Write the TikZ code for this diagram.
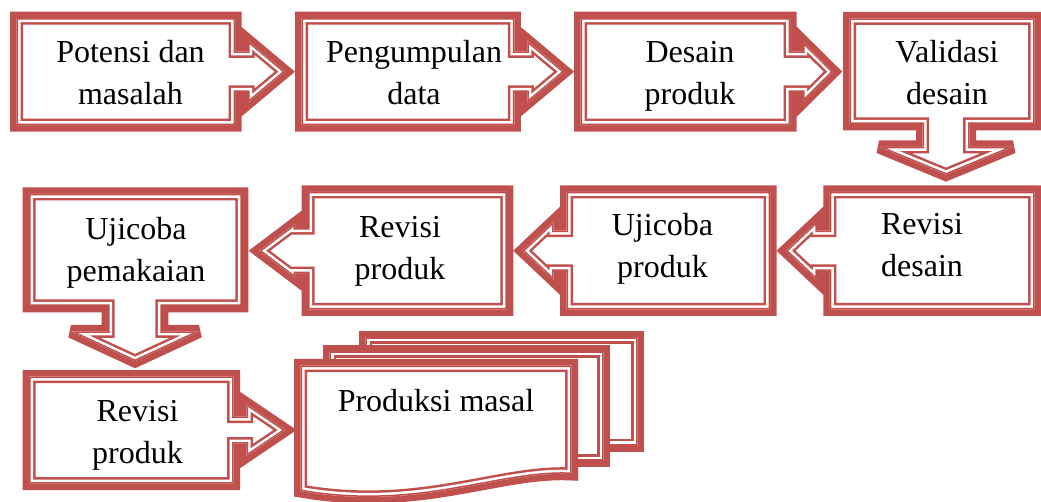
\documentclass[tikz,border=0pt]{standalone}
\usepackage{fontspec}
\setmainfont{Liberation Serif}
\definecolor{cred}{HTML}{C0504D}
\tikzset{
  lbl/.style={align=center, font=\fontsize{32}{42}\selectfont, inner sep=0pt, anchor=base},
  bandout/.style={draw=cred, line width=13pt, line join=miter, miter limit=3},
  bandgap/.style={draw=white, line width=8pt, line join=miter, miter limit=3},
  bandin/.style={draw=cred, line width=3pt, line join=miter, miter limit=3},
}
% compound (thick-thin) outline of a closed path
\newcommand{\cshape}[1]{%
  \fill[white] #1;
  \path[bandout] #1;
  \begin{scope}
    \clip #1;
    \path[bandgap] #1;
    \path[bandin] #1;
  \end{scope}}
% horizontal arrow callout: far side x, top y, near (arrow) side x, bottom y, shaft half, head base x, head half, tip x
\newcommand{\hcall}[8]{%
  \cshape{({#1},{#2}) -- ({#3},{#2}) -- ({#3},{(#2+#4)/2-#5}) -- ({#6},{(#2+#4)/2-#5})
    -- ({#6},{(#2+#4)/2-#7}) -- ({#8},{(#2+#4)/2}) -- ({#6},{(#2+#4)/2+#7})
    -- ({#6},{(#2+#4)/2+#5}) -- ({#3},{(#2+#4)/2+#5}) -- ({#3},{#4}) -- ({#1},{#4}) -- cycle}}
% down arrow callout: x0, y0, x1, y1, shaft centre x, shaft half, head base y, head half, tip y
\newcommand{\vcall}[9]{%
  \cshape{({#1},{#2}) -- ({#3},{#2}) -- ({#3},{#4}) -- ({#5+#6},{#4}) -- ({#5+#6},{#7})
    -- ({#5+#8},{#7}) -- ({#5},{#9}) -- ({#5-#8},{#7}) -- ({#5-#6},{#7})
    -- ({#5-#6},{#4}) -- ({#1},{#4}) -- cycle}}
\begin{document}
\begin{tikzpicture}[x=1pt, y=-1pt]
\useasboundingbox (0,0) rectangle (1041,502);
% row 1
\hcall{16.5}{18.2}{235.2}{125.2}{20.2}{248.2}{30.7}{284.8}
\hcall{301.5}{18.2}{514.4}{125.2}{20.2}{527.4}{30.7}{564}
\hcall{580.5}{18.2}{790.2}{125.2}{20.2}{803.2}{29.5}{833}
\vcall{849.5}{18.5}{1034.5}{124}{946}{23.5}{147}{67}{174.6}
% row 2
\hcall{1034.5}{192}{829.8}{309.5}{20.2}{816.8}{29}{786}
\hcall{770.2}{192}{566.5}{309.5}{20.2}{553.5}{29}{522.7}
\hcall{506.8}{192}{308.2}{309.5}{22.5}{295.2}{27}{259.4}
\vcall{29.2}{193.8}{241.8}{306}{135}{26.8}{331.5}{64}{361.1}
% row 3
\hcall{29.2}{376.5}{233.5}{483.5}{13.5}{246.5}{26}{285}
% multidocument
\cshape{(365.5,337.2) rectangle (637.5,445.2)}
\cshape{(329.5,351.5) rectangle (603.5,460.5)}
\cshape{(300.5,365.5) -- (571.5,365.5) -- (571.5,474) .. controls (500,470) and (420,512) .. (300.5,491) -- cycle}
% labels
\node[lbl] (t1) at (130.5,104.5) {Potensi dan\\masalah};
\node[lbl] (t2) at (414,104.5) {Pengumpulan\\data};
\node[lbl] (t3) at (690,104.5) {Desain\\produk};
\node[lbl] (t4) at (947,104.5) {Validasi\\desain};
\node[lbl] (t5) at (922,277) {Revisi\\desain};
\node[lbl] (t6) at (662.5,278) {Ujicoba\\produk};
\node[lbl] (t7) at (400,280) {Revisi\\produk};
\node[lbl] (t8) at (136,281.7) {Ujicoba\\pemakaian};
\node[lbl] (t9) at (137.5,463.3) {Revisi\\produk};
\node[lbl] (t10) at (436,411.7) {Produksi masal};
\end{tikzpicture}
\end{document}
